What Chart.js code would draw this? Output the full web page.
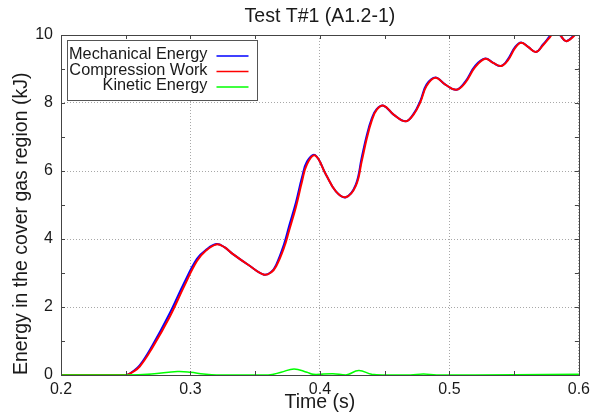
<!DOCTYPE html>
<html>
<head>
<meta charset="utf-8">
<script src="https://cdn.jsdelivr.net/npm/chart.js@4/dist/chart.umd.min.js"></script>
<style>
  html, body { margin: 0; padding: 0; background: #fff; }
  #wrap { width: 595px; height: 417px; }
</style>
</head>
<body>
<div id="wrap"><canvas id="energy"></canvas></div>
<script>
// values (time in s, energy in kJ)
var times = [0.2, 0.25, 0.2515, 0.2546, 0.2608, 0.2708, 0.2838, 0.295, 0.305, 0.312, 0.32, 0.3262, 0.3323, 0.3454, 0.3569, 0.3623, 0.3662, 0.3723, 0.3762, 0.3815, 0.3862, 0.39, 0.3962, 0.4046, 0.4123, 0.42, 0.4277, 0.4323, 0.4362, 0.44, 0.4438, 0.4492, 0.4569, 0.4662, 0.4723, 0.4777, 0.4823, 0.4892, 0.4969, 0.5054, 0.5123, 0.52, 0.5277, 0.5338, 0.54, 0.5454, 0.5508, 0.5554, 0.5608, 0.5669, 0.5723, 0.5777, 0.5815, 0.5854, 0.59, 0.5954, 0.6];
var compressionWork = [0, 0, 0.01, 0.07, 0.25, 0.82, 1.7, 2.6, 3.35, 3.66, 3.84, 3.76, 3.57, 3.22, 2.95, 3.02, 3.2, 3.75, 4.25, 4.95, 5.7, 6.2, 6.46, 5.9, 5.4, 5.23, 5.56, 6.29, 6.96, 7.48, 7.8, 7.92, 7.66, 7.46, 7.66, 8.04, 8.5, 8.74, 8.54, 8.39, 8.6, 9.06, 9.3, 9.18, 9.09, 9.27, 9.62, 9.77, 9.65, 9.5, 9.7, 9.94, 10.12, 10.0, 9.82, 9.94, 10.15];
var mechanicalEnergy = [0, 0, 0.01, 0.08, 0.28, 0.88, 1.8, 2.7, 3.42, 3.68, 3.85, 3.76, 3.57, 3.22, 2.95, 3.03, 3.24, 3.85, 4.38, 5.08, 5.82, 6.28, 6.47, 5.9, 5.4, 5.23, 5.6, 6.4, 7.05, 7.54, 7.82, 7.92, 7.66, 7.46, 7.68, 8.08, 8.54, 8.75, 8.54, 8.39, 8.63, 9.1, 9.31, 9.18, 9.09, 9.3, 9.65, 9.78, 9.65, 9.5, 9.72, 9.97, 10.13, 10.0, 9.82, 9.96, 10.16];

var kineticTimes = [0.2, 0.25, 0.27, 0.29, 0.30, 0.31, 0.32, 0.36, 0.37, 0.38, 0.39, 0.395, 0.41, 0.42, 0.43, 0.44, 0.45, 0.47, 0.48, 0.49, 0.55, 0.6];
var kineticEnergy = [0, 0, 0.03, 0.1, 0.08, 0.03, 0, 0, 0.08, 0.18, 0.08, 0.02, 0.04, 0, 0.13, 0.02, 0, 0, 0.03, 0, 0.01, 0.02];

var xTicks = [0.2, 0.3, 0.4, 0.5, 0.6];
var yTicks = [0, 2, 4, 6, 8, 10];

var labels = ['Mechanical Energy', 'Compression Work', 'Kinetic Energy'];
var colors = ['#0000ff', '#ff0000', '#00ff00'];

function pairs(xs, ys) {
    return xs.map(function (x, i) { return {x: x, y: ys[i]}; });
}

var textColor = '#1a1a1a';
var font = 'Liberation Sans, Arial, sans-serif';

// frame, inward tick marks and the boxed legend
var framePlugin = {
    id: 'frame',
    afterDatasetsDraw: function (chart) {
        var ctx = chart.ctx, a = chart.chartArea;
        var xs = chart.scales.x, ys = chart.scales.y;
        ctx.save();
        ctx.strokeStyle = '#444';
        ctx.lineWidth = 1;
        ctx.beginPath();
        var t, p;
        for (t = 0.2; t <= 0.6001; t += 0.05) {
            p = Math.round(xs.getPixelForValue(t)) + 0.5;
            ctx.moveTo(p, a.bottom); ctx.lineTo(p, a.bottom - 4);
            ctx.moveTo(p, a.top); ctx.lineTo(p, a.top + 4);
        }
        for (t = 0; t <= 10; t += 1) {
            p = Math.round(ys.getPixelForValue(t)) + 0.5;
            ctx.moveTo(a.left, p); ctx.lineTo(a.left + 4, p);
            ctx.moveTo(a.right, p); ctx.lineTo(a.right - 4, p);
        }
        ctx.stroke();
        ctx.strokeRect(Math.round(a.left) + 0.5, Math.round(a.top) + 0.5,
            Math.round(a.right - a.left), Math.round(a.bottom - a.top));

        // legend box
        var bx = a.left + 6.5, by = a.top + 5.5, bw = 190, bh = 60;
        ctx.fillStyle = '#fff';
        ctx.fillRect(bx, by, bw, bh);
        ctx.strokeStyle = '#555';
        ctx.strokeRect(bx, by, bw, bh);
        ctx.font = '16.3px ' + font;
        ctx.textAlign = 'right';
        ctx.textBaseline = 'middle';
        for (var i = 0; i < labels.length; i++) {
            var ty = by + 14.5 + i * 15.5;
            ctx.fillStyle = textColor;
            ctx.fillText(labels[i], bx + 140, ty);
            ctx.strokeStyle = colors[i];
            ctx.lineWidth = 1.5;
            ctx.beginPath();
            ctx.moveTo(bx + 149, ty + 1);
            ctx.lineTo(bx + 181, ty + 1);
            ctx.stroke();
        }
        ctx.restore();
    }
};

var ctx = document.getElementById('energy').getContext('2d');
var chart = new Chart(ctx, {
    type: 'line',
    data: {
        datasets: [{
            label: labels[0],
            data: pairs(times, mechanicalEnergy),
            borderColor: colors[0],
            borderWidth: 2,
            order: 2
        }, {
            label: labels[1],
            data: pairs(times, compressionWork),
            borderColor: colors[1],
            borderWidth: 2,
            order: 1
        }, {
            label: labels[2],
            data: pairs(kineticTimes, kineticEnergy),
            borderColor: colors[2],
            borderWidth: 1.5,
            order: 0
        }]
    },
    options: {
        responsive: true,
        maintainAspectRatio: false,
        animation: false,
        events: [],
        elements: {
            point: { radius: 0 },
            line: { tension: 0.4, fill: false }
        },
        layout: { padding: { left: 0, right: 13, top: 0, bottom: 0 } },
        plugins: {
            legend: { display: false },
            tooltip: { enabled: false },
            title: {
                display: true,
                text: 'Test T#1 (A1.2-1)',
                fullSize: false,
                color: textColor,
                font: { family: font, size: 19.5, weight: 'normal' },
                padding: { top: 5, bottom: 6.6 }
            }
        },
        scales: {
            x: {
                type: 'linear',
                min: 0.2,
                max: 0.6,
                afterFit: function (s) { s.height = 42; },
                afterBuildTicks: function (s) { s.ticks = xTicks.map(function (v) { return {value: v}; }); },
                ticks: {
                    color: textColor,
                    padding: 5,
                    font: { family: font, size: 16 },
                    callback: function (v) { return v.toFixed(1); }
                },
                grid: { color: '#a8a8a8', drawTicks: false },
                border: { display: false, dash: [1, 2] },
                title: {
                    display: true,
                    text: 'Time (s)',
                    color: textColor,
                    font: { family: font, size: 19.5 },
                    padding: { top: 0, bottom: 3 }
                }
            },
            y: {
                min: 0,
                max: 10,
                afterFit: function (s) { s.width = 61; },
                afterBuildTicks: function (s) { s.ticks = yTicks.map(function (v) { return {value: v}; }); },
                ticks: {
                    color: textColor,
                    padding: 8,
                    font: { family: font, size: 16 }
                },
                grid: { color: '#a8a8a8', drawTicks: false },
                border: { display: false, dash: [1, 2] },
                title: {
                    display: true,
                    text: 'Energy in the cover gas region (kJ)',
                    align: 'start',
                    color: textColor,
                    font: { family: font, size: 19.5 },
                    padding: { top: 10, bottom: 0 }
                }
            }
        }
    },
    plugins: [framePlugin]
});
</script>
</body>
</html>
